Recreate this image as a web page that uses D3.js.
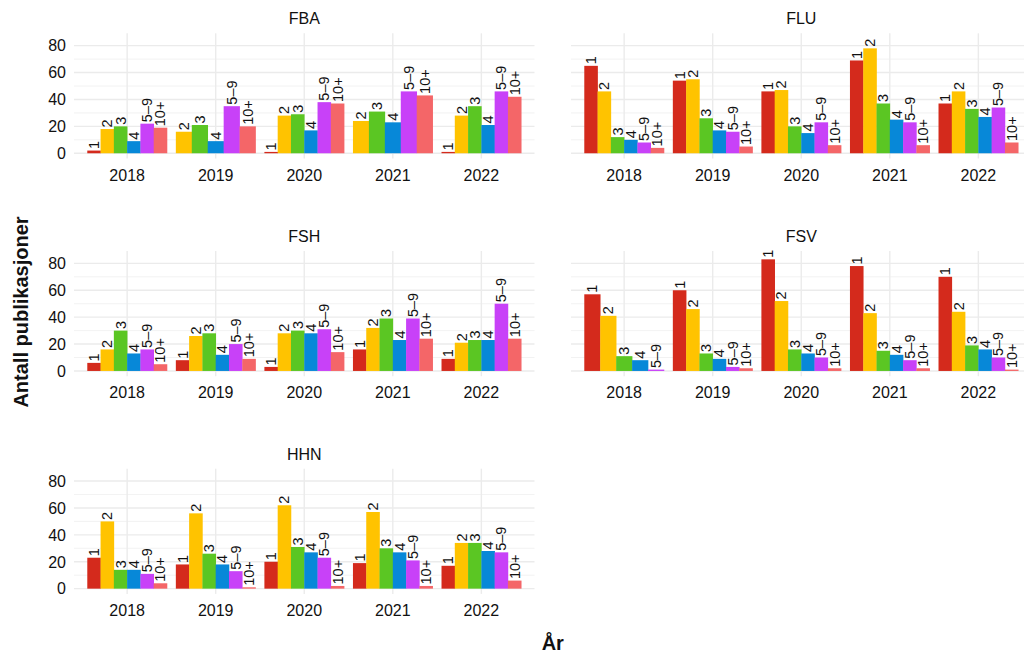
<!DOCTYPE html>
<html>
<head>
<meta charset="utf-8">
<script src="https://cdn.jsdelivr.net/npm/d3@7"></script>
<style>
  body { margin: 0; background: #fff; }
  svg text { font-family: "Liberation Sans", Arial, sans-serif; fill: #111; }
</style>
</head>
<body>
<div id="chart"></div>
<script>
// faculties, years and author-count groups
const faculties = ["FBA", "FLU", "FSH", "FSV", "HHN"];
const years = ["2018", "2019", "2020", "2021", "2022"];
const authorGroups = ["1", "2", "3", "4", "5\u20139", "10+"];
const yTicks = [0, 20, 40, 60, 80];
const yMinor = [10, 30, 50, 70];

// publications per year, one row per year, columns follow authorGroups (null = no bar)
const fbaCounts = [
  [2, 18, 20, 9, 22, 19],
  [null, 16, 21, 9, 35, 20],
  [1, 28, 29, 17, 38, 37],
  [null, 24, 31, 23, 46, 43],
  [1, 28, 35, 21, 46, 42]
];
const fluCounts = [
  [65, 46, 12, 10, 8, 4],
  [54, 55, 26, 17, 16, 5],
  [46, 47, 20, 15, 23, 6],
  [69, 78, 37, 25, 23, 6],
  [37, 46, 33, 27, 34, 8]
];
const fshCounts = [
  [6, 16, 30, 13, 16, 5],
  [8, 26, 28, 12, 20, 9],
  [3, 28, 30, 28, 31, 14],
  [16, 32, 39, 23, 39, 24],
  [9, 21, 23, 23, 50, 24]
];
const fsvCounts = [
  [57, 41, 11, 8, 1, null],
  [60, 46, 13, 9, 3, 2],
  [83, 52, 16, 13, 10, 2],
  [78, 43, 15, 12, 8, 2],
  [70, 44, 19, 16, 10, 1]
];
const hhnCounts = [
  [23, 50, 14, 14, 11, 4],
  [18, 56, 26, 18, 13, 1],
  [20, 62, 31, 27, 23, 2],
  [19, 57, 30, 27, 21, 2],
  [17, 34, 34, 28, 27, 6]
];
const countsByFaculty = [fbaCounts, fluCounts, fshCounts, fsvCounts, hhnCounts];

const colors = ["#D42A1C", "#FFC300", "#5BC623", "#0788D8", "#C841F8", "#F46668"];

const width = 1024, height = 653;
const panelW = 460.5, panelH = 125.2;
const colX = [74, 571];
const rowY = [33.3, 251, 468.7];

const svg = d3.select("#chart").append("svg")
  .attr("width", width)
  .attr("height", height);

const color = d3.scaleOrdinal().domain(authorGroups).range(colors);
const x = d3.scalePoint().domain(years).range([0, panelW]).padding(0.6);
const y = d3.scaleLinear().domain([-3.9, 89.2]).range([panelH, 0]);
const dodgeW = x.step() * 0.9;

faculties.forEach((fac, fi) => {
  const col = fi % 2, row = Math.floor(fi / 2);
  const g = svg.append("g")
    .attr("transform", `translate(${colX[col]},${rowY[row]})`);

  // grid
  g.append("g").selectAll("line.minor")
    .data(yMinor).enter().append("line")
    .attr("x1", 0).attr("x2", panelW)
    .attr("y1", d => y(d)).attr("y2", d => y(d))
    .attr("stroke", "#EFEFEF").attr("stroke-width", 0.8);
  g.append("g").selectAll("line.major")
    .data(yTicks).enter().append("line")
    .attr("x1", 0).attr("x2", panelW)
    .attr("y1", d => y(d)).attr("y2", d => y(d))
    .attr("stroke", "#EBEBEB").attr("stroke-width", 1.4);
  g.append("g").selectAll("line.vert")
    .data(years).enter().append("line")
    .attr("x1", d => x(d)).attr("x2", d => x(d))
    .attr("y1", 0).attr("y2", panelH)
    .attr("stroke", "#EBEBEB").attr("stroke-width", 1.4);

  // strip title
  svg.append("text")
    .attr("x", colX[col] + panelW / 2)
    .attr("y", rowY[row] - 9)
    .attr("text-anchor", "middle")
    .attr("font-size", 16)
    .text(fac);

  // y axis labels on left column only
  if (col === 0) {
    g.append("g").selectAll("text")
      .data(yTicks).enter().append("text")
      .attr("x", -8)
      .attr("y", d => y(d))
      .attr("dy", "0.36em")
      .attr("text-anchor", "end")
      .attr("font-size", 16)
      .text(d => d);
  }

  // x axis labels
  g.append("g").selectAll("text")
    .data(years).enter().append("text")
    .attr("x", d => x(d))
    .attr("y", panelH + 22.2)
    .attr("text-anchor", "middle")
    .attr("font-size", 16)
    .text(d => d);

  // bars, dodged over the groups that are present
  const rows = [];
  years.forEach((yr, yi) => {
    const present = authorGroups.filter((a, ai) => countsByFaculty[fi][yi][ai] != null);
    const inner = d3.scaleBand().domain(present).range([-dodgeW / 2, dodgeW / 2]);
    present.forEach(a => {
      const v = countsByFaculty[fi][yi][authorGroups.indexOf(a)];
      rows.push({ year: yr, group: a, value: v, x0: x(yr) + inner(a), w: inner.bandwidth() });
    });
  });

  g.append("g").selectAll("rect")
    .data(rows).enter().append("rect")
    .attr("x", d => d.x0)
    .attr("width", d => d.w + 0.3)
    .attr("y", d => y(d.value))
    .attr("height", d => y(0) - y(d.value))
    .attr("fill", d => color(d.group));

  g.append("g").selectAll("text")
    .data(rows).enter().append("text")
    .attr("transform", d => `translate(${d.x0 + d.w / 2},${y(d.value) - 1.5})rotate(-90)`)
    .attr("dy", "0.35em")
    .attr("text-anchor", "start")
    .attr("font-size", 14.5)
    .text(d => d.group);
});

// axis titles
svg.append("text")
  .attr("x", (colX[0] + colX[1] + panelW) / 2)
  .attr("y", 650)
  .attr("text-anchor", "middle")
  .attr("font-size", 20)
  .attr("font-weight", "bold")
  .text("År");

svg.append("text")
  .attr("transform", "translate(28,312)rotate(-90)")
  .attr("text-anchor", "middle")
  .attr("font-size", 20)
  .attr("font-weight", "bold")
  .text("Antall publikasjoner");
</script>
</body>
</html>
